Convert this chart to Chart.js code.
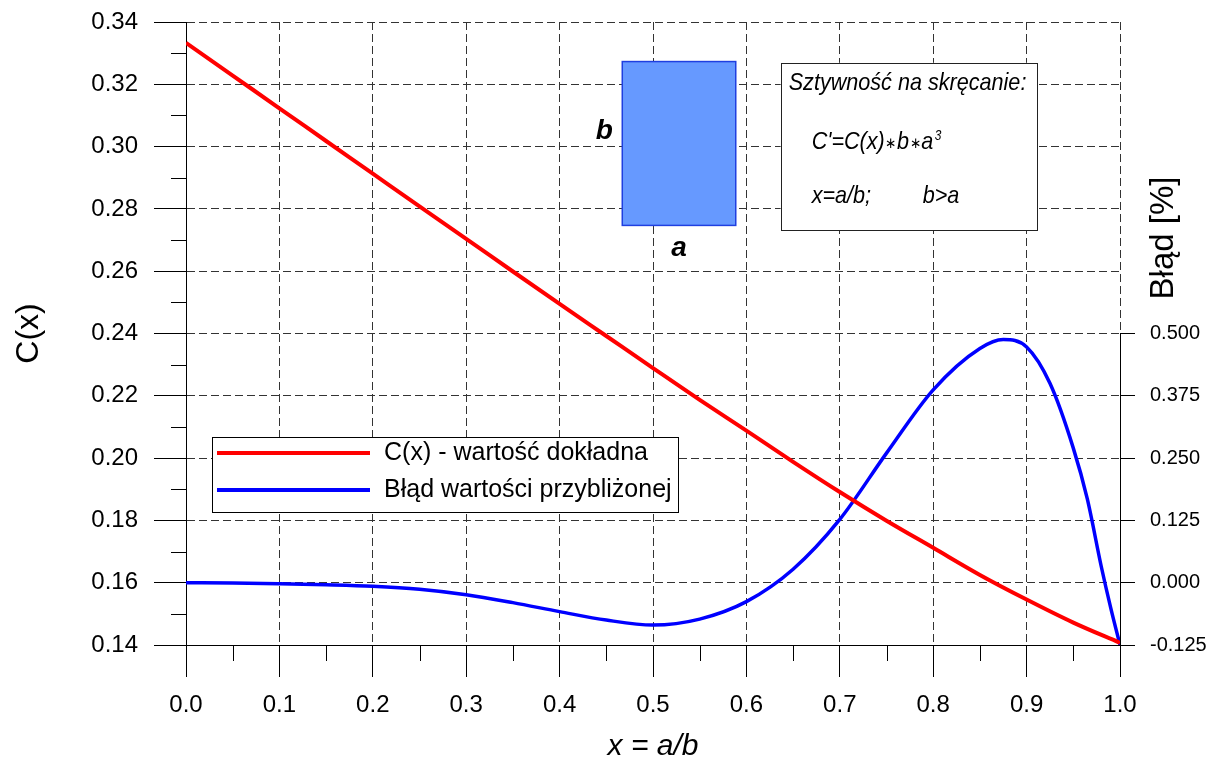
<!DOCTYPE html>
<html>
<head>
<meta charset="utf-8">
<script src="https://cdn.jsdelivr.net/npm/chart.js@4.4.1/dist/chart.umd.min.js"></script>
<style>
  html, body { margin: 0; padding: 0; background: #fff; }
</style>
</head>
<body>
<canvas id="chart" width="1213" height="765"></canvas>
<script>
// x = a/b
const xValues = [0, 0.05, 0.1, 0.15, 0.2, 0.25, 0.3, 0.35, 0.4, 0.45, 0.5,
                 0.55, 0.6, 0.65, 0.7, 0.75, 0.8, 0.85, 0.9, 0.95, 1.0];
// C(x) - exact value (left axis)
const cExact = [0.3333, 0.3228, 0.3123, 0.3018, 0.2913, 0.2808, 0.2704, 0.2599, 0.2495, 0.2392, 0.2289,
                0.2187, 0.2088, 0.1988, 0.1891, 0.1799, 0.1712, 0.1625, 0.1546, 0.1472, 0.1407];

// error of the approximate value [%] (right axis)
const xError = [0, 0.05, 0.1, 0.15, 0.2, 0.25, 0.3, 0.35, 0.4, 0.45, 0.5,
                0.55, 0.6, 0.65, 0.7, 0.75, 0.8, 0.85, 0.875, 0.9, 0.925, 0.95, 0.965, 0.98, 0.99, 1.0];
const errValues = [0, -0.0005, -0.002, -0.004, -0.007, -0.013, -0.024, -0.040, -0.058, -0.075, -0.085,
                   -0.073, -0.038, 0.027, 0.127, 0.26, 0.387, 0.47, 0.488, 0.473, 0.40, 0.27, 0.168, 0.032, -0.05, -0.125];

const xTicks = [0, 0.1, 0.2, 0.3, 0.4, 0.5, 0.6, 0.7, 0.8, 0.9, 1.0];
const leftTicks = [0.14, 0.16, 0.18, 0.20, 0.22, 0.24, 0.26, 0.28, 0.30, 0.32, 0.34];
const rightTicks = [-0.125, 0, 0.125, 0.25, 0.375, 0.5];

const seriesNames = ['C(x) - wartość dokładna', 'Błąd wartości przybliżonej'];

const FONT = '"Liberation Sans", Arial, sans-serif';
Chart.defaults.font.family = FONT;
Chart.defaults.color = '#000';

const GRID = '#333';
const DASH = [8, 4];

function narrowText(ctx, text, x, y, sx) {
  ctx.save();
  ctx.translate(x, y);
  ctx.scale(sx, 1);
  ctx.fillText(text, 0, 0);
  const w = ctx.measureText(text).width * sx;
  ctx.restore();
  return w;
}

const extras = {
  id: 'extras',
  afterDraw(chart) {
    const ctx = chart.ctx;
    const a = chart.chartArea;
    const sx = chart.scales.x, sy = chart.scales.y, sy2 = chart.scales.y2;

    ctx.save();
    ctx.strokeStyle = '#000';
    ctx.lineWidth = 1;
    ctx.setLineDash([]);

    // minor ticks on x (0.05) and left y (0.01)
    ctx.beginPath();
    for (let i = 0; i < xTicks.length - 1; i++) {
      const px = Math.round(sx.getPixelForValue((xTicks[i] + xTicks[i + 1]) / 2)) + 0.5;
      ctx.moveTo(px, a.bottom);
      ctx.lineTo(px, a.bottom + 16);
    }
    for (let i = 0; i < leftTicks.length - 1; i++) {
      const py = Math.round(sy.getPixelForValue((leftTicks[i] + leftTicks[i + 1]) / 2)) + 0.5;
      ctx.moveTo(a.left - 15, py);
      ctx.lineTo(a.left, py);
    }
    // right axis line, only over the labelled part
    const rx = Math.round(a.right) + 0.5;
    ctx.moveTo(rx, sy2.getPixelForValue(rightTicks[rightTicks.length - 1]));
    ctx.lineTo(rx, sy2.getPixelForValue(rightTicks[0]));
    ctx.stroke();

    // right axis title
    ctx.save();
    ctx.translate(1164, 238);
    ctx.rotate(-Math.PI / 2);
    ctx.font = '33px ' + FONT;
    ctx.fillStyle = '#000';
    ctx.textAlign = 'center';
    ctx.textBaseline = 'middle';
    ctx.fillText('Błąd [%]', 0, 0);
    ctx.restore();

    // legend box
    const lx = a.left + 26, ly = 437, lw = 466, lh = 75;
    ctx.fillStyle = '#fff';
    ctx.fillRect(lx, ly, lw, lh);
    ctx.strokeStyle = '#000';
    ctx.strokeRect(lx + 0.5, ly + 0.5, lw, lh);
    chart.data.datasets.forEach((ds, i) => {
      const yy = ly + 16 + i * 37;
      ctx.strokeStyle = ds.borderColor;
      ctx.lineWidth = 4;
      ctx.beginPath();
      ctx.moveTo(lx + 5, yy);
      ctx.lineTo(lx + 158, yy);
      ctx.stroke();
      ctx.fillStyle = '#000';
      ctx.font = '25px ' + FONT;
      ctx.textBaseline = 'middle';
      ctx.textAlign = 'left';
      ctx.fillText(ds.label, lx + 172, yy);
    });

    // section sketch (rectangle a x b)
    const r0 = sx.getPixelForValue(0.4671), r1 = sx.getPixelForValue(0.5886);
    const t0 = sy.getPixelForValue(0.3273), t1 = sy.getPixelForValue(0.2747);
    ctx.fillStyle = '#6699ff';
    ctx.fillRect(r0, t0, r1 - r0, t1 - t0);
    ctx.strokeStyle = '#1f3fe0';
    ctx.lineWidth = 1.5;
    ctx.strokeRect(r0, t0, r1 - r0, t1 - t0);
    ctx.fillStyle = '#000';
    ctx.font = 'italic bold 28px ' + FONT;
    ctx.textAlign = 'center';
    ctx.textBaseline = 'middle';
    ctx.fillText('b', r0 - 18, (t0 + t1) / 2 - 12);
    ctx.fillText('a', (r0 + r1) / 2, t1 + 23);

    // description box
    const b0 = sx.getPixelForValue(0.6367), b1 = sx.getPixelForValue(0.9111);
    const u0 = sy.getPixelForValue(0.3269), u1 = sy.getPixelForValue(0.2732);
    ctx.fillStyle = '#fff';
    ctx.fillRect(b0, u0, b1 - b0, u1 - u0);
    ctx.strokeStyle = '#222';
    ctx.lineWidth = 1;
    ctx.strokeRect(Math.round(b0) + 0.5, Math.round(u0) + 0.5, Math.round(b1 - b0), Math.round(u1 - u0));
    ctx.fillStyle = '#000';
    ctx.textAlign = 'left';
    ctx.textBaseline = 'middle';
    const big = 'italic 24px ' + FONT, small = '15px ' + FONT;
    ctx.font = big;
    narrowText(ctx, 'Sztywność na skręcanie:', b0 + 8, u0 + 21, 0.9);
    // C'=C(x)*b*a^3
    let cx = b0 + 31;
    const ly2 = u0 + 80;
    const parts = [['C\'=C(x)', big, 0], ['\u2217', small, 1], ['b', big, 0], ['\u2217', small, 1], ['a', big, 0]];
    parts.forEach(p => {
      ctx.font = p[1];
      cx += narrowText(ctx, p[0], cx, ly2 + p[2], 0.9) + (p[1] === small ? 0 : 0.5);
    });
    ctx.font = 'italic 14px ' + FONT;
    narrowText(ctx, '3', cx + 1, ly2 - 7, 0.85);
    ctx.font = big;
    narrowText(ctx, 'x=a/b;', b0 + 31, u0 + 134, 0.9);
    narrowText(ctx, 'b>a', b0 + 142, u0 + 134, 0.9);
    ctx.restore();
  }
};

new Chart(document.getElementById('chart').getContext('2d'), {
  type: 'line',
  data: {
    datasets: [{
      label: seriesNames[0],
      data: xValues.map((x, i) => ({ x: x, y: cExact[i] })),
      borderColor: '#ff0000',
      borderWidth: 4,
      pointRadius: 0,
      cubicInterpolationMode: 'monotone',
      yAxisID: 'y'
    }, {
      label: seriesNames[1],
      data: xError.map((x, i) => ({ x: x, y: errValues[i] })),
      borderColor: '#0000ff',
      borderWidth: 3.5,
      pointRadius: 0,
      cubicInterpolationMode: 'monotone',
      yAxisID: 'y2'
    }]
  },
  options: {
    responsive: false,
    animation: false,
    layout: { padding: { top: 22, left: 0, right: 0, bottom: 0 } },
    plugins: { legend: { display: false }, tooltip: { enabled: false } },
    scales: {
      x: {
        type: 'linear',
        min: 0, max: 1,
        afterFit(s) { s.height = 120; s.paddingLeft = 0; s.paddingRight = 0; },
        afterBuildTicks(s) { s.ticks = xTicks.map(v => ({ value: v })); },
        ticks: { callback: v => v.toFixed(1), font: { size: 24 }, padding: 14, maxRotation: 0 },
        grid: { color: GRID, lineWidth: 1, tickLength: 32, tickColor: '#000', tickBorderDash: [] },
        border: { display: true, color: '#000', dash: DASH },
        title: { display: true, text: 'x = a/b', font: { size: 30, style: 'italic' }, padding: { top: 0, bottom: 0 } }
      },
      y: {
        position: 'left',
        min: 0.14, max: 0.34,
        afterFit(s) { s.width = 186; s.paddingTop = 0; s.paddingBottom = 0; },
        afterBuildTicks(s) { s.ticks = leftTicks.map(v => ({ value: v })); },
        ticks: { callback: v => v.toFixed(2), font: { size: 24 }, padding: 16 },
        grid: { color: GRID, lineWidth: 1, tickLength: 32, tickColor: '#000', tickBorderDash: [] },
        border: { display: true, color: '#000', dash: DASH },
        title: { display: true, text: 'C(x)', font: { size: 32 }, padding: { top: 10, bottom: 0 } }
      },
      y2: {
        position: 'right',
        min: -0.125, max: 1.125,
        afterFit(s) { s.width = 93; s.paddingTop = 0; s.paddingBottom = 0; },
        afterBuildTicks(s) { s.ticks = rightTicks.map(v => ({ value: v })); },
        ticks: { callback: v => v.toFixed(3), font: { size: 20 }, padding: 15 },
        grid: { drawOnChartArea: false, tickLength: 15, tickColor: '#000', tickBorderDash: [] },
        border: { display: false }
      }
    }
  },
  plugins: [extras]
});
</script>
</body>
</html>
